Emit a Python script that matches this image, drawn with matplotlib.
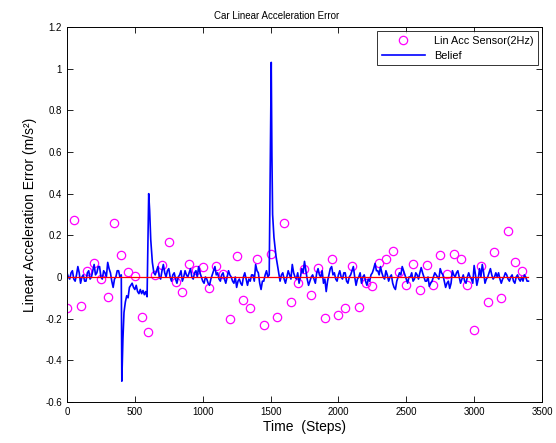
import matplotlib
matplotlib.use("Agg")
import matplotlib.pyplot as plt

plt.rcParams["font.family"] = ["Liberation Sans", "DejaVu Sans"]

# sensor readings, one every 50 steps (2Hz)
sensor_steps = list(range(0, 3400, 50))
sensor_err = [
    -0.147, 0.272, -0.138, 0.030, 0.066, -0.010, -0.095, 0.258, 0.106, 0.022,
    0.005, -0.194, -0.264, 0.010, 0.058, 0.168, -0.026, -0.074, 0.062, 0.032,
    0.050, -0.054, 0.053, 0.013, -0.200, 0.100, -0.110, -0.147, 0.085, -0.230,
    0.110, -0.190, 0.258, -0.122, -0.027, 0.037, -0.085, 0.042, -0.195, 0.088,
    -0.184, -0.147, 0.053, -0.142, -0.027, -0.043, 0.069, 0.088, 0.126, 0.025,
    -0.038, 0.064, -0.064, 0.059, -0.040, 0.106, 0.014, 0.112, 0.085, -0.038,
    -0.253, 0.054, -0.122, 0.122, -0.099, 0.221, 0.074, 0.029,
]

# belief error
belief_steps = (
    list(range(0, 401, 10))
    + [404, 412, 420] + list(range(430, 591, 10))
    + [602, 609, 617, 629, 640]
    + list(range(650, 1491, 10))
    + [1505, 1510, 1515, 1525, 1540, 1555]
    + list(range(1570, 3401, 10))
)
belief_err = [
    # 0 - 400
    0.02, 0.0, -0.01, 0.02, 0.03, -0.01, -0.02, 0.01, 0.05, 0.02,
    -0.03, 0.0, 0.01, -0.02, -0.02, 0.02, 0.03, -0.01, 0.0, 0.03,
    0.06, 0.01, 0.02, 0.05, 0.05, 0.0, -0.01, 0.03, 0.02, 0.0,
    0.07, 0.04, 0.02, -0.02, -0.05, -0.01, 0.0, 0.03, 0.03, 0.0, 0.01,
    # dip after step 400
    -0.50, -0.30, -0.17,
    -0.12, -0.09, -0.10, -0.05, -0.04, -0.03, -0.05, -0.06, -0.04, -0.07,
    -0.08, -0.06, -0.08, -0.065, -0.085, -0.07, -0.095,
    # spike near 600
    0.40, 0.32, 0.18, 0.07, 0.02,
    # 650 - 1490
    0.01, 0.03, 0.05, 0.0, -0.01, 0.03, 0.06, 0.02, 0.0, 0.03,
    0.04, 0.0, -0.02, 0.01, 0.02, -0.01, -0.03, 0.0, 0.01, 0.03,
    -0.02, 0.0, 0.03, 0.01, 0.0, 0.02, 0.04, 0.0, -0.01, 0.02,
    0.03, 0.0, 0.05, 0.02, 0.0, -0.02, -0.03, 0.0, -0.01, -0.03,
    -0.04, -0.01, 0.01, 0.03, 0.05, 0.01, 0.02, -0.01, -0.02, 0.01,
    0.02, -0.01, -0.03, 0.0, 0.03, 0.01, 0.0, -0.02, -0.03, 0.0,
    -0.05, -0.02, -0.01, -0.03, -0.04, 0.0, 0.02, -0.01, -0.04, -0.01,
    -0.02, 0.01, 0.01, -0.02, 0.06, 0.03, 0.02, -0.03, -0.06, -0.02,
    -0.02, 0.01, 0.03, 0.0, 0.01,
    # spike near 1500
    1.03, 0.58, 0.30, 0.19, 0.10, 0.04,
    # 1570 - 3400
    -0.02, 0.01, 0.02, -0.01, -0.03, 0.0, 0.03, 0.01, -0.01, 0.06,
    0.02, 0.0, -0.01, 0.02, -0.03, 0.0, 0.04, 0.02, 0.075, 0.03,
    -0.01, -0.04, -0.02, 0.0, 0.01, -0.01, -0.03, 0.02, 0.04, 0.01,
    0.0, 0.03, -0.03, -0.01, -0.07, -0.02, 0.01, 0.04, 0.05, 0.01,
    0.02, -0.01, -0.02, 0.01, 0.03, 0.0, -0.01, 0.02, 0.02, -0.02,
    -0.03, 0.0, 0.01, 0.03, 0.05, 0.0, -0.04, -0.01, 0.0, 0.02,
    -0.03, 0.0, 0.01, -0.02, -0.04, -0.01, -0.02, 0.01, 0.02, 0.04,
    0.065, 0.03, 0.03, 0.01, 0.05, 0.02, 0.0, -0.01, 0.03, 0.01,
    -0.02, 0.0, 0.01, -0.03, -0.05, -0.06, -0.02, 0.0, 0.02, 0.01,
    0.05, 0.03, 0.01, -0.01, -0.03, 0.0, 0.0, 0.02, -0.02, -0.01,
    0.02, 0.01, -0.01, 0.02, 0.045, 0.02, 0.0, -0.02, -0.02, 0.0,
    -0.045, -0.03, -0.02, 0.0, 0.02, 0.01, 0.0, -0.01, 0.04, 0.02,
    0.01, -0.02, -0.05, -0.03, -0.02, -0.055, -0.03, 0.03, 0.01, 0.0,
    0.02, 0.03, 0.0, -0.03, -0.01, 0.01, -0.02, -0.03, 0.0, 0.02,
    0.0, -0.01, -0.03, 0.055, 0.01, -0.04, -0.01, 0.04, 0.0, 0.06,
    0.02, -0.03, -0.01, 0.0, 0.02, 0.04, 0.01, -0.01, 0.0, 0.02,
    0.0, 0.02, -0.01, -0.03, -0.01, 0.0, 0.02, 0.01, -0.01, -0.02,
    0.0, 0.01, -0.02, -0.03, 0.0, 0.01, -0.01, -0.02, 0.0, -0.02,
    0.01, 0.0, -0.02, -0.02,
]

zero_steps = [0, 3400]
zero_err = [0, 0]

fig = plt.figure(figsize=(5.56, 4.43), dpi=100)
ax = fig.add_axes([0.1205, 0.0926, 0.8543, 0.8465])

ax.plot(sensor_steps, sensor_err, "o", color="#ff00ff", mfc="none", ms=6, mew=0.9,
        label="Lin Acc Sensor(2Hz)")
ax.plot(belief_steps, belief_err, color="#0000ff", lw=1.2, label="Belief")
ax.plot(zero_steps, zero_err, color="#ff0000", lw=0.9)

ax.set_xlim(0, 3500)
ax.set_ylim(-0.6, 1.2)
ax.set_xticks(range(0, 3501, 500))
ax.set_yticks([-0.6, -0.4, -0.2, 0, 0.2, 0.4, 0.6, 0.8, 1, 1.2])
ax.set_yticklabels(["-0.6", "-0.4", "-0.2", "0", "0.2", "0.4", "0.6", "0.8", "1", "1.2"])
ax.tick_params(direction="in", top=True, right=True, labelsize=7, length=4, width=0.6)
for s in ax.spines.values():
    s.set_linewidth(0.7)

ax.set_title("Car Linear Acceleration Error", fontsize=7, pad=6, x=0.442)
ax.set_xlabel("Time  (Steps)", fontsize=10, labelpad=2)
ax.set_ylabel("Linear Acceleration Error (m/s²)", fontsize=10, labelpad=6)

leg = ax.legend(loc="upper right", fontsize=7.8, frameon=True, fancybox=False,
                edgecolor="black", borderaxespad=0.4, handlelength=4)
leg.get_frame().set_linewidth(0.7)

fig.savefig("out.png", dpi=100)
